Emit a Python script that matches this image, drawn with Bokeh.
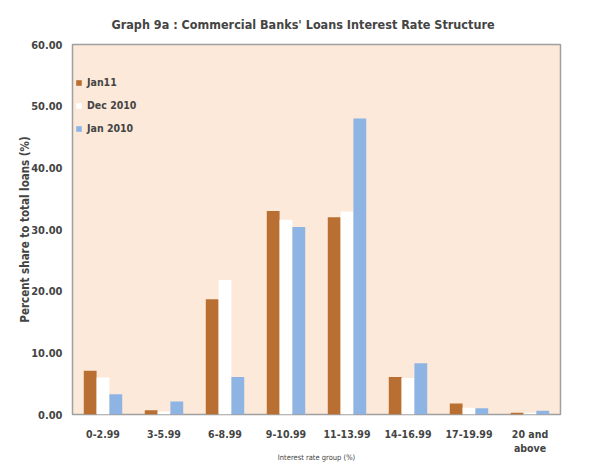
from bokeh.plotting import figure
from bokeh.models import ColumnDataSource, Legend, LegendItem, FactorRange, NumeralTickFormatter, FixedTicker
from bokeh.transform import dodge
from bokeh.embed import file_html
from bokeh.resources import INLINE

categories = ["0-2.99", "3-5.99", "6-8.99", "9-10.99", "11-13.99", "14-16.99", "17-19.99", "20 and\nabove"]
jan11 = [7.1, 0.7, 18.7, 33.0, 32.0, 6.1, 1.8, 0.3]
dec2010 = [6.0, 0.5, 21.8, 31.6, 32.9, 5.9, 1.1, 0.3]
jan2010 = [3.3, 2.1, 6.1, 30.4, 48.0, 8.3, 1.0, 0.6]
series_names = ["Jan11", "Dec 2010", "Jan 2010"]
y_ticks = [0, 10, 20, 30, 40, 50, 60]

FONT = "Liberation Sans Narrow, DejaVu Sans Condensed, Roboto Condensed, Open Sans Condensed, Roboto, sans-serif"
colors = ["#B96F32", "#FFFFFF", "#8EB4E3"]

src = ColumnDataSource(dict(cat=categories, a=jan11, b=dec2010, c=jan2010))

p = figure(x_range=FactorRange(*categories), y_range=(0, 60),
           frame_width=488, frame_height=370,
           output_backend="svg", toolbar_location=None,
           min_border_left=72, min_border_right=26, min_border_top=44, min_border_bottom=50)
p.background_fill_color = "#FDE9D9"
p.border_fill_color = "white"
p.outline_line_color = "#A0A0A0"
p.outline_line_width = 1.5
p.grid.visible = False

w = 0.21
r1 = p.vbar(x=dodge("cat", -w, range=p.x_range), top="a", width=w, source=src, fill_color=colors[0], line_color=None)
r2 = p.vbar(x=dodge("cat", 0, range=p.x_range), top="b", width=w, source=src, fill_color=colors[1], line_color=None)
r3 = p.vbar(x=dodge("cat", w, range=p.x_range), top="c", width=w, source=src, fill_color=colors[2], line_color=None)

p.title.text = "Graph 9a : Commercial Banks' Loans Interest Rate Structure"
p.title.align = "left"
p.title.offset = 39
p.title.text_font = FONT
p.title.text_font_size = "12.5px"
p.title.text_font_style = "bold"
p.title.standoff = 26

p.yaxis.ticker = FixedTicker(ticks=y_ticks)
p.yaxis.formatter = NumeralTickFormatter(format="0.00")
p.yaxis.axis_line_color = None
p.yaxis.major_tick_line_color = None
p.yaxis.minor_tick_line_color = None
p.yaxis.major_label_standoff = 4
p.yaxis.major_label_text_font = FONT
p.yaxis.major_label_text_font_style = "bold"
p.yaxis.major_label_text_font_size = "11px"
p.yaxis.axis_label = "Percent share to total loans (%)"
p.yaxis.axis_label_text_font = FONT
p.yaxis.axis_label_text_font_style = "bold"
p.yaxis.axis_label_text_font_size = "11.5px"
p.yaxis.axis_label_standoff = -4

p.xaxis.axis_line_color = None
p.xaxis.major_tick_line_color = None
p.xaxis.minor_tick_line_color = None
p.xaxis.major_label_standoff = 7
p.xaxis.major_label_text_font = FONT
p.xaxis.major_label_text_font_style = "bold"
p.xaxis.major_label_text_font_size = "10.5px"
p.xaxis.axis_label = "Interest rate group (%)"
p.xaxis.axis_label_text_font = FONT
p.xaxis.axis_label_text_font_style = "normal"
p.xaxis.axis_label_text_font_size = "7.5px"
p.xaxis.axis_label_standoff = -4

legend = Legend(items=[LegendItem(label=series_names[0], renderers=[r1]),
                       LegendItem(label=series_names[1], renderers=[r2]),
                       LegendItem(label=series_names[2], renderers=[r3])],
                location=(3, 280), orientation="vertical")
legend.background_fill_alpha = 0
legend.border_line_color = None
legend.padding = 0
legend.margin = 0
legend.spacing = 11
legend.glyph_width = 7
legend.glyph_height = 7
legend.label_height = 12
legend.label_standoff = 5
legend.label_text_font = FONT
legend.label_text_font_style = "bold"
legend.label_text_font_size = "10.5px"
p.add_layout(legend)

open("out.html", "w").write(file_html(p, INLINE))
